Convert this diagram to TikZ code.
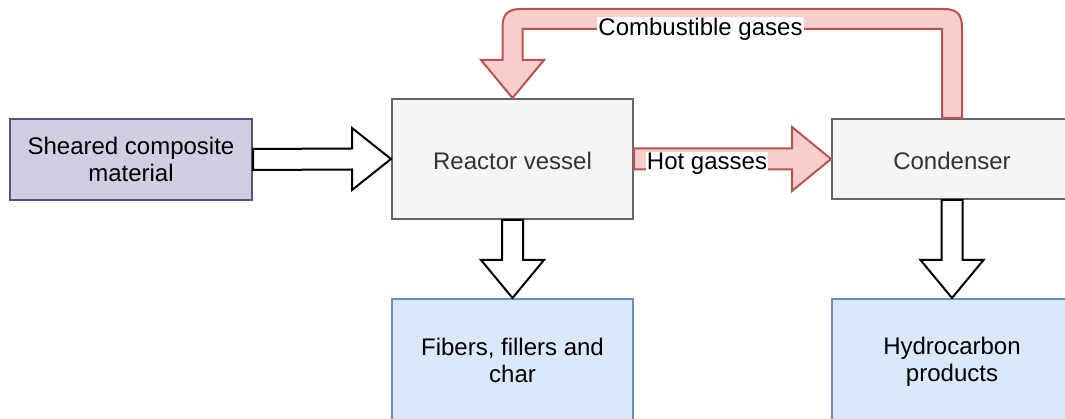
\documentclass[tikz,border=0pt]{standalone}
\usepackage{fontspec}
\setmainfont{Liberation Sans}
\usetikzlibrary{calc}
\definecolor{redfill}{HTML}{F8CECC}
\definecolor{redline}{HTML}{B85450}
\definecolor{lavfill}{HTML}{D0CEE2}
\definecolor{lavline}{HTML}{56517E}
\definecolor{grayfill}{HTML}{F5F5F5}
\definecolor{grayline}{HTML}{666666}
\definecolor{bluefill}{HTML}{DAE8FC}
\definecolor{blueline}{HTML}{6C8EBF}
\definecolor{txtgray}{HTML}{333333}
\tikzset{
  box/.style={draw, line width=2pt, align=center, inner sep=0pt,
    font=\fontsize{24}{27}\selectfont},
  lavbox/.style={box, fill=lavfill, draw=lavline, text=black},
  graybox/.style={box, fill=grayfill, draw=grayline, text=txtgray},
  bluebox/.style={box, fill=bluefill, draw=blueline, text=black},
  blockw/.style={draw=black, fill=white, line width=2pt, line join=miter},
  flowred/.style={draw=redline, fill=redfill, line width=2pt, line join=miter},
  lbl/.style={fill=white, inner sep=1pt, font=\fontsize{24}{27}\selectfont, text=black}
}
\begin{document}
\begin{tikzpicture}[x=1pt,y=-1pt]
\useasboundingbox (0,0) rectangle (1065,419);
\clip (0,0) rectangle (1065,419);
\node[lavbox, minimum width=242pt, minimum height=81pt] (sheared) at (131,159.5) {Sheared composite\\material};
\node[graybox, minimum width=241pt, minimum height=120pt, text height=21pt, text depth=0pt] (reactor) at (512.5,159) {Reactor vessel};
\node[graybox, minimum width=240pt, minimum height=80pt, text height=21pt, text depth=0pt] (condenser) at (952,159) {Condenser};
\node[bluebox, minimum width=241pt, minimum height=122pt] (fibers) at (512.5,360) {Fibers, fillers and\\char};
\node[bluebox, minimum width=240pt, minimum height=126pt] (hydro) at (952,362) {Hydrocarbon\\products};

% sheared -> reactor
\draw[blockw] (reactor.west) -- ++(-39,31) -- ++(0,-20.5) -- ($(sheared.east)+(0,10.5)$) -- ++(0,-21) -- ($(reactor.west)+(-39,-10.5)$) -- ++(0,-20.5) -- cycle;
% reactor -> fibers
\draw[blockw] (fibers.north) -- ++(-31.5,-38) -- ++(21,0) -- ($(reactor.south)+(-10.5,0)$) -- ++(21,0) -- ($(fibers.north)+(10.5,-38)$) -- ++(21,0) -- cycle;
% condenser -> hydro
\draw[blockw] (hydro.north) -- ++(-31.5,-38) -- ++(21,0) -- ($(condenser.south)+(-10.5,0)$) -- ++(21,0) -- ($(hydro.north)+(10.5,-38)$) -- ++(21,0) -- cycle;
% reactor -> condenser (hot gasses)
\draw[flowred] (condenser.west) -- ++(-39,32) -- ++(0,-21.5) -- ($(reactor.east)+(0,10.5)$) -- ++(0,-21) -- ($(condenser.west)+(-39,-10.5)$) -- ++(0,-21.5) -- cycle;
\node[lbl] (hot) at (707,164) {Hot gasses};
% condenser -> reactor (combustible gases)
\draw[flowred] ($(condenser.north)+(-10,0)$) -- (942,29) -- (522.5,29) -- (522.5,60) -- (544,60) -- (reactor.north) -- (481,60) -- (502.5,60) -- (502.5,28) .. controls (502.5,14) and (507.5,9) .. (521.5,9) -- (943,9) .. controls (957,9) and (962,14) .. (962,28) -- ($(condenser.north)+(10,0)$) -- cycle;
\node[lbl] (comb) at (700.5,29) {Combustible gases};
\end{tikzpicture}
\end{document}
